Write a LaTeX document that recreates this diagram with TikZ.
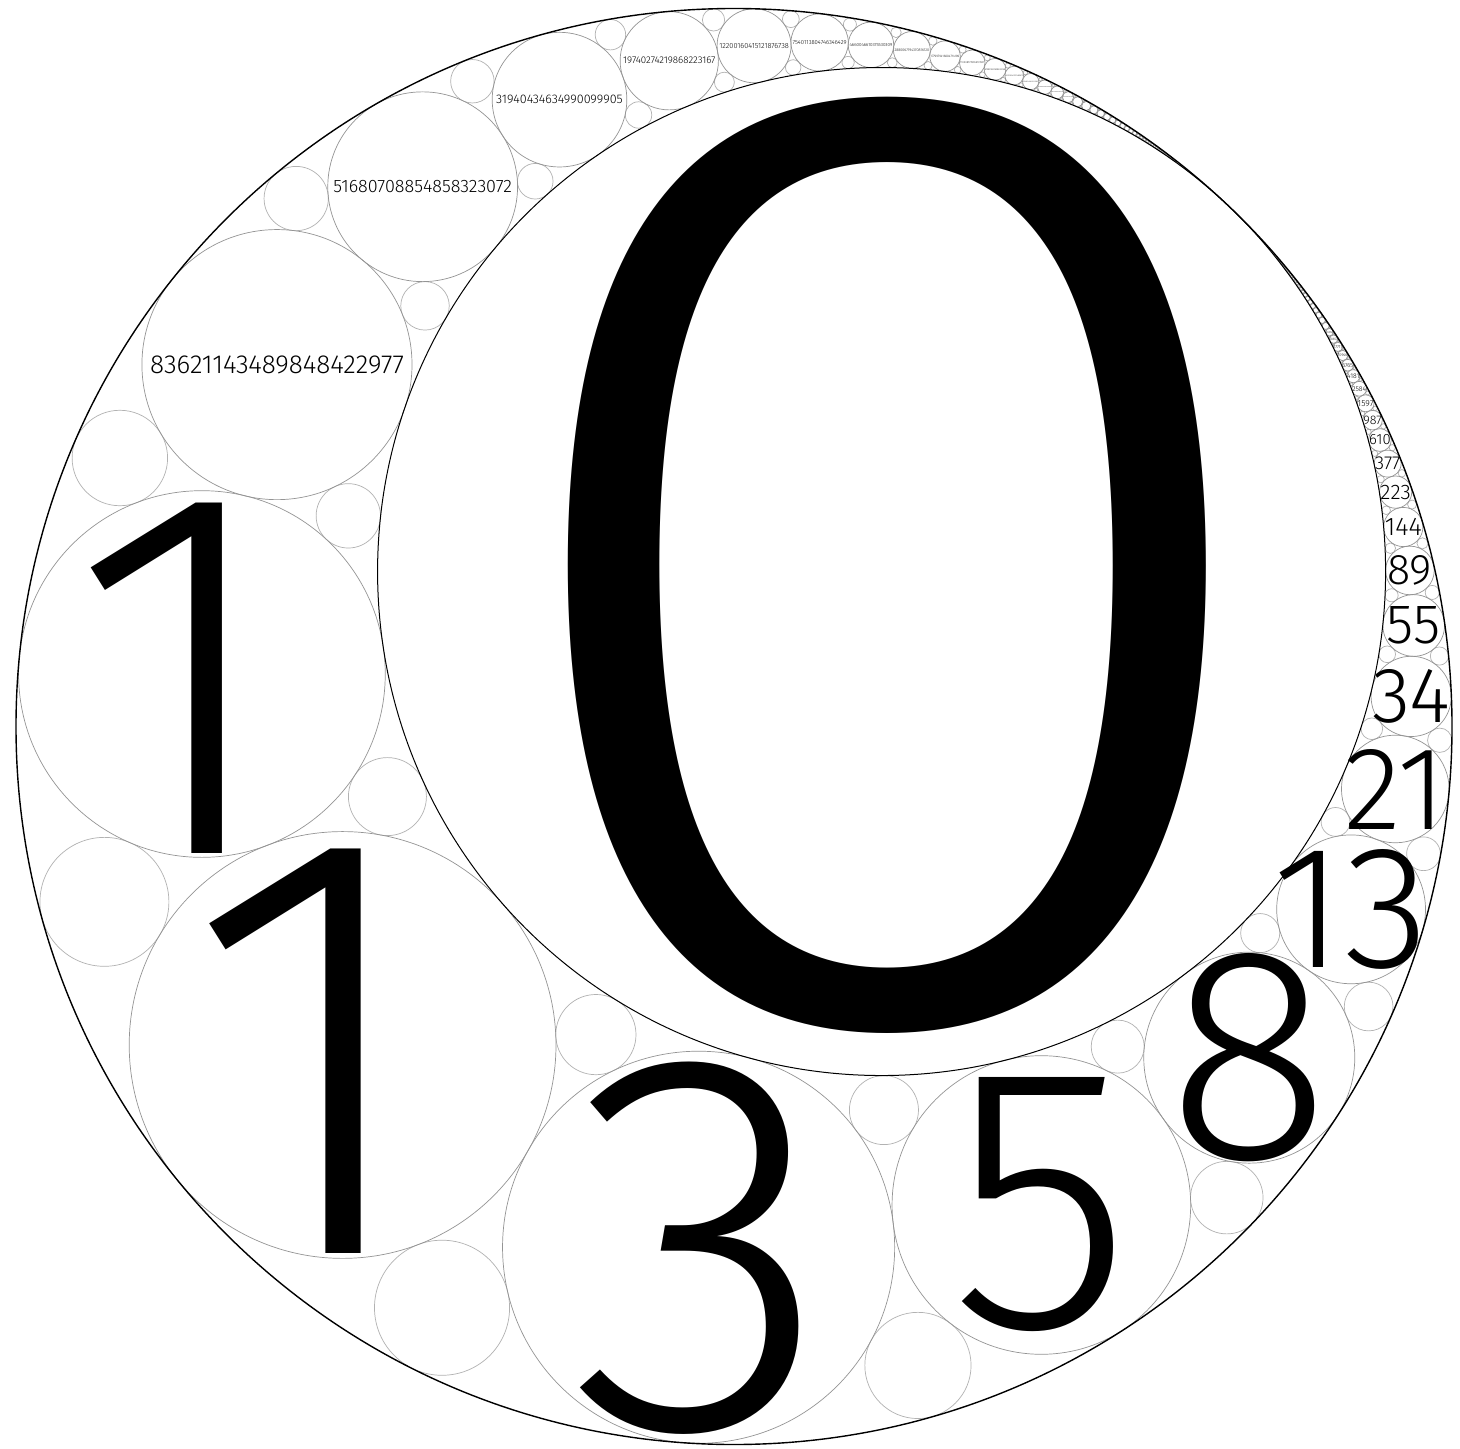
\documentclass[tikz,border=0pt]{standalone}
\usepackage{fontspec}
\usepackage{graphicx}
\newfontfamily\lightfont{Fira Sans Light}
\ExplSyntaxOn
\cs_new:Npn \fd #1 {\fp_to_decimal:n{#1}}
\ExplSyntaxOff
% geometry in pixels (y downwards)
\def\GOx{734}\def\GOy{726.5}\def\GR{718}\def\Gr{504}\def\Gth{-46.4}\def\GYz{-64}
\edef\GTx{\fd{\GOx+\GR*cosd(\Gth)}}
\edef\GTy{\fd{\GOy+\GR*sind(\Gth)}}
\edef\Gux{\fd{-cosd(\Gth)}}
\edef\Guy{\fd{-sind(\Gth)}}
\edef\Gvx{\fd{-sind(\Gth)}}
\edef\Gvy{\fd{cosd(\Gth)}}
\edef\Gk{\fd{4*\GR*\Gr}}
\edef\Grho{\fd{\GR-\Gr}}
\edef\GXc{\fd{\GR+\Gr}}
\edef\GIx{\fd{\GOx+(\GR-\Gr)*cosd(\Gth)}}
\edef\GIy{\fd{\GOy+(\GR-\Gr)*sind(\Gth)}}
\newcommand\chainpos[1]{%
  \edef\GY{\fd{\GYz+2*\Grho*(#1)}}%
  \edef\Gf{\fd{\Gk/(\Gk+(\GY)^2)}}%
  \edef\Gcx{\fd{\GTx+\Gf*(\GXc*\Gux+(\GY)*\Gvx)}}%
  \edef\Gcy{\fd{\GTy+\Gf*(\GXc*\Guy+(\GY)*\Gvy)}}%
  \edef\Gcr{\fd{\Grho*\Gf}}%
}
\newcommand\gappos[3]{%
  \edef\Gg{\fd{\Gk/((#1)^2+(#2)^2-(#3)^2)}}%
  \edef\Gcx{\fd{\GTx+\Gg*((#1)*\Gux+(#2)*\Gvx)}}%
  \edef\Gcy{\fd{\GTy+\Gg*((#1)*\Guy+(#2)*\Gvy)}}%
  \edef\Gcr{\fd{(#3)*\Gg}}%
}
\tikzset{
  outerc/.style={draw=black,line width=0.7pt},
  innerc/.style={draw=black,line width=0.5pt},
  chainc/.style={draw=black!42,line width=0.35pt},
  gapc/.style={draw=black!30,line width=0.35pt},
  lab/.style={inner sep=0pt,outer sep=0pt,anchor=center,text=black}
}
\begin{document}
\begin{tikzpicture}[x=0.5pt,y=-0.5pt]
\fill[white] (0,0) rectangle (1460,1449);
\useasboundingbox (0,0) rectangle (1460,1449);
% gap circles
\foreach \n in {-48,...,47}{
  \edef\GYg{\fd{\GYz+2*\Grho*(\n)+\Grho}}
  \gappos{2*\Gr+\Grho/4}{\GYg}{\Grho/4}
  \draw[gapc] (\Gcx,\Gcy) circle[radius=\fd{0.5*\Gcr}pt];
  \gappos{2*\GR-\Grho/4}{\GYg}{\Grho/4}
  \draw[gapc] (\Gcx,\Gcy) circle[radius=\fd{0.5*\Gcr}pt];
}
% chain circles
\foreach \n in {-48,...,48}{
  \chainpos{\n}
  \draw[chainc] (\Gcx,\Gcy) circle[radius=\fd{0.5*\Gcr}pt];
}
% outer and inner circles
\draw[outerc] (\GOx,\GOy) circle[radius=\fd{0.5*\GR}pt];
\draw[innerc] (\GIx,\GIy) circle[radius=\fd{0.5*\Gr}pt];
% labels
\node[lab] (zero) at (887,565) {\scalebox{1.12}[1]{\resizebox{!}{460pt}{\lightfont 0}}};
\chainpos{-1}
\node[lab] (L-1) at (\Gcx-25,\Gcy+4) {\resizebox{!}{175pt}{\lightfont 1}};
\chainpos{0}
\node[lab] (L0) at (\Gcx-33,\Gcy+6) {\resizebox{!}{202pt}{\lightfont 1}};
\chainpos{1}
\node[lab] (L1) at (\Gcx+3,\Gcy+1) {\resizebox{!}{183pt}{\lightfont 3}};
\foreach \n/\lbl/\hh in {2/5/250,3/8/205,4/13/118,5/21/80,6/34/53,7/55/37,8/89/29}{
  \chainpos{\n}
  \node[lab] (L\n) at (\Gcx,\Gcy) {\resizebox{!}{\fd{0.5*\hh}pt}{\lightfont\lbl}};
}
\foreach \n/\lbl in {9/144,10/223,11/377,12/610,13/987,14/1597,15/2584,16/4181,17/6765,18/10946,19/17711,20/28657,21/46368,
 -2/83621143489848422977,-3/51680708854858323072,-4/31940434634990099905,-5/19740274219868223167,-6/12200160415121876738,-7/7540113804746346429,-8/4660046610375530309,-9/2880067194370816120,-10/1779979416004714189,-11/1100087778366101931,-12/679891637638612258,-13/420196140727489673,-14/259695496911122585,-15/160500643816367088,-16/99194853094755497,-17/61305790721611591}{
  \chainpos{\n}
  \node[lab] (L\n) at (\Gcx,\Gcy) {\resizebox{\fd{0.5*0.94*2*\Gcr}pt}{!}{\lightfont\lbl}};
}
\end{tikzpicture}
\end{document}
